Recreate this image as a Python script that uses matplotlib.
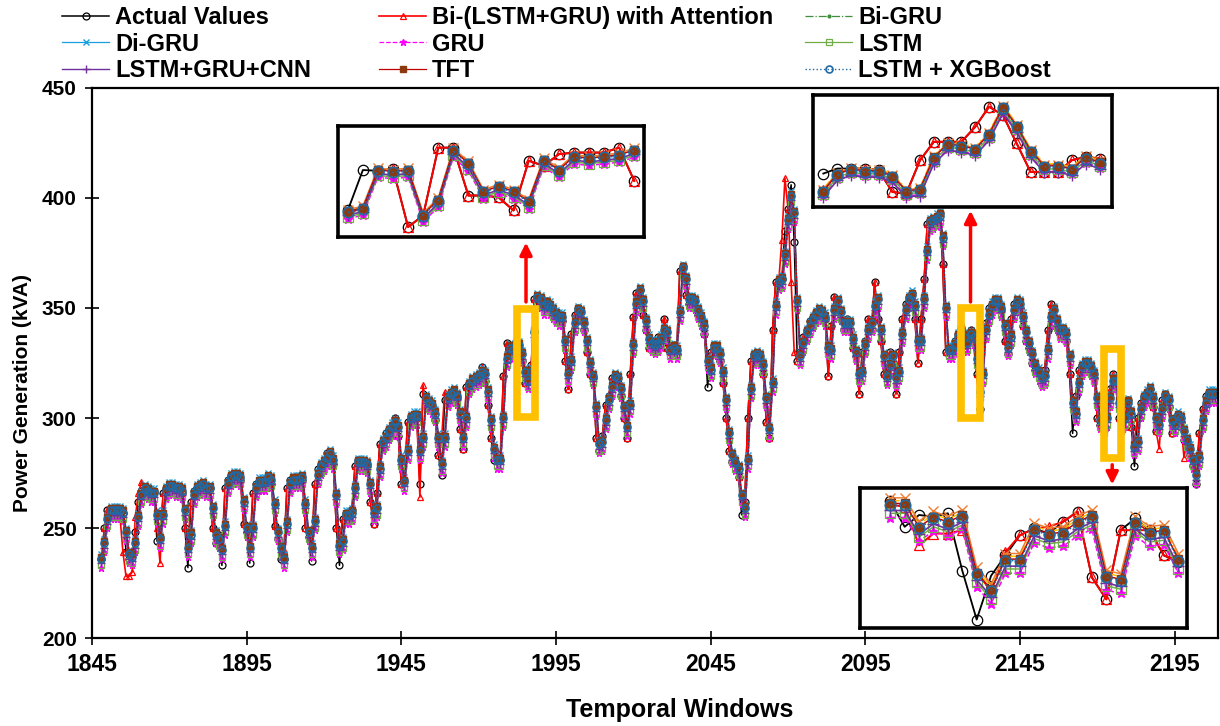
import numpy as np
import matplotlib
matplotlib.use('Agg')
import matplotlib.pyplot as plt
from matplotlib.patches import Rectangle

# temporal windows on the x axis (one reading per window)
windows = np.arange(1848, 2209)

actual = [
    236, 250, 258, 258, 257, 259, 256, 257, 239, 236,
    238, 248, 262, 267, 268, 266, 265, 267, 244, 246,
    266, 268, 269, 268, 268, 267, 266, 250, 232, 262,
    267, 268, 270, 269, 267, 268, 250, 243, 247, 233,
    268, 272, 274, 273, 274, 272, 252, 248, 234, 266,
    270, 271, 270, 272, 273, 270, 251, 245, 236, 236,
    268, 272, 272, 271, 273, 272, 250, 246, 235, 270,
    277, 279, 280, 284, 283, 279, 250, 233, 254, 257,
    255, 258, 278, 281, 279, 280, 278, 262, 252, 266,
    288, 289, 293, 295, 296, 300, 292, 270, 272, 298,
    301, 301, 300, 270, 311, 306, 307, 305, 299, 283,
    274, 308, 310, 312, 311, 309, 295, 286, 314, 316,
    317, 318, 319, 323, 317, 306, 291, 281, 281, 281,
    319, 334, 330, 332, 333, 332, 326, 316, 317, 324,
    354, 355, 352, 350, 353, 348, 349, 345, 347, 344,
    326, 313, 338, 347, 350, 345, 340, 330, 320, 318,
    291, 285, 292, 306, 310, 318, 319, 316, 310, 300,
    291, 320, 346, 357, 358, 347, 340, 332, 335, 330,
    337, 334, 345, 332, 330, 333, 329, 367, 369, 356,
    352, 355, 350, 347, 345, 338, 314, 330, 333, 331,
    326, 316, 300, 285, 280, 280, 273, 256, 262, 300,
    326, 329, 328, 327, 320, 298, 291, 340, 362, 362,
    363, 385, 395, 406, 380, 326, 330, 337, 340, 344,
    346, 348, 349, 347, 345, 319, 342, 355, 350, 345,
    340, 345, 340, 332, 328, 311, 330, 335, 345, 340,
    362, 345, 335, 320, 318, 330, 325, 311, 330, 345,
    352, 355, 357, 345, 325, 345, 363, 388, 390, 390,
    391, 393, 370, 330, 331, 331, 335, 338, 341, 333,
    335, 340, 334, 320, 304, 336, 343, 350, 352, 354,
    351, 349, 335, 329, 345, 352, 353, 350, 342, 335,
    332, 325, 322, 320, 315, 322, 340, 352, 346, 342,
    338, 341, 335, 320, 293, 310, 322, 324, 325, 324,
    322, 318, 300, 297, 295, 305, 313, 320, 314, 300,
    295, 305, 308, 296, 278, 300, 307, 310, 312, 313,
    305, 294, 300, 308, 311, 305, 293, 300, 302, 298,
    290, 289, 283, 278, 270, 293, 304, 310, 312, 310,
    311,
]

bi_att = [
    236, 250, 258, 258, 257, 259, 256, 239, 228, 228,
    230, 255, 266, 271, 268, 266, 265, 267, 250, 234,
    266, 268, 269, 268, 268, 267, 266, 250, 243, 262,
    267, 268, 270, 269, 267, 268, 250, 243, 247, 241,
    268, 272, 274, 273, 274, 272, 252, 248, 242, 266,
    270, 271, 270, 272, 273, 270, 251, 245, 243, 240,
    268, 272, 272, 271, 273, 272, 250, 246, 242, 270,
    277, 279, 280, 284, 283, 279, 250, 243, 254, 257,
    255, 258, 278, 281, 279, 280, 278, 262, 252, 266,
    288, 289, 293, 295, 296, 300, 292, 270, 272, 298,
    301, 301, 300, 264, 315, 306, 307, 305, 299, 283,
    290, 312, 310, 312, 311, 309, 295, 286, 314, 316,
    317, 318, 319, 323, 317, 306, 291, 287, 285, 284,
    319, 334, 330, 332, 333, 332, 326, 316, 317, 324,
    354, 355, 352, 350, 353, 348, 349, 345, 347, 344,
    326, 313, 338, 347, 350, 345, 340, 330, 320, 318,
    291, 290, 292, 306, 310, 318, 319, 316, 310, 300,
    291, 320, 346, 357, 358, 347, 340, 332, 335, 330,
    337, 334, 345, 332, 330, 333, 329, 367, 369, 356,
    352, 355, 350, 347, 345, 338, 325, 330, 333, 331,
    326, 316, 300, 285, 280, 280, 273, 266, 262, 300,
    326, 329, 328, 327, 320, 298, 291, 340, 362, 362,
    381, 409, 395, 362, 330, 326, 330, 337, 340, 344,
    346, 348, 349, 347, 345, 319, 342, 355, 350, 345,
    340, 345, 340, 332, 328, 311, 330, 335, 345, 340,
    362, 345, 335, 320, 318, 330, 325, 311, 330, 345,
    352, 355, 357, 345, 325, 345, 363, 388, 390, 390,
    391, 393, 370, 330, 331, 331, 335, 338, 341, 333,
    335, 340, 334, 320, 304, 336, 343, 350, 352, 354,
    351, 349, 335, 329, 345, 352, 353, 350, 342, 335,
    332, 325, 322, 320, 315, 322, 340, 352, 346, 342,
    338, 341, 335, 320, 305, 310, 322, 324, 325, 324,
    322, 318, 300, 297, 295, 305, 313, 320, 314, 300,
    295, 305, 308, 296, 290, 300, 307, 310, 312, 313,
    305, 294, 286, 308, 311, 305, 293, 300, 302, 298,
    282, 289, 283, 278, 278, 293, 304, 310, 312, 310,
    311,
]

bi_gru = [
    235, 242, 253, 257, 257, 257, 257, 256, 247, 237,
    236, 242, 254, 264, 267, 266, 265, 265, 255, 244,
    255, 266, 268, 268, 267, 267, 266, 257, 240, 246,
    264, 267, 268, 269, 267, 267, 258, 246, 244, 239,
    250, 269, 272, 273, 273, 272, 261, 249, 240, 249,
    267, 270, 270, 270, 272, 271, 260, 247, 240, 235,
    251, 269, 271, 271, 271, 272, 260, 247, 240, 252,
    273, 277, 279, 281, 283, 280, 264, 241, 243, 255,
    255, 256, 267, 279, 279, 279, 278, 269, 256, 258,
    276, 288, 290, 293, 295, 297, 295, 280, 270, 284,
    299, 300, 300, 284, 290, 308, 306, 305, 301, 290,
    278, 290, 308, 310, 311, 309, 301, 290, 299, 314,
    316, 317, 318, 320, 319, 311, 298, 285, 280, 280,
    299, 326, 331, 330, 332, 332, 328, 320, 316, 320,
    338, 354, 353, 350, 351, 350, 348, 346, 345, 345,
    334, 319, 325, 342, 348, 347, 342, 334, 324, 318,
    304, 287, 288, 298, 307, 313, 318, 317, 312, 304,
    295, 305, 332, 351, 357, 352, 343, 335, 333, 332,
    333, 335, 339, 338, 330, 331, 330, 347, 367, 362,
    353, 353, 352, 348, 345, 341, 325, 321, 331, 331,
    328, 320, 307, 292, 282, 279, 276, 264, 258, 280,
    312, 327, 328, 327, 323, 308, 294, 315, 350, 361,
    362, 373, 389, 400, 392, 352, 327, 333, 338, 341,
    344, 346, 348, 347, 345, 331, 330, 348, 352, 347,
    342, 342, 342, 335, 329, 319, 320, 332, 339, 342,
    350, 353, 339, 327, 318, 323, 327, 317, 320, 337,
    348, 353, 355, 350, 334, 334, 353, 375, 388, 389,
    390, 391, 381, 349, 330, 330, 332, 336, 339, 336,
    333, 337, 336, 326, 311, 319, 339, 346, 350, 352,
    352, 349, 341, 331, 336, 348, 352, 351, 345, 338,
    333, 328, 323, 320, 317, 318, 330, 345, 348, 343,
    339, 339, 337, 327, 306, 301, 315, 322, 324, 324,
    322, 319, 308, 298, 295, 299, 308, 316, 316, 306,
    297, 299, 306, 301, 286, 288, 303, 308, 310, 312,
    308, 299, 296, 303, 309, 307, 298, 296, 300, 299,
    293, 289, 285, 280, 273, 281, 298, 306, 310, 310,
    310,
]

di_gru = [
    238, 245, 256, 260, 260, 260, 260, 259, 250, 240,
    239, 245, 257, 267, 270, 269, 268, 268, 258, 247,
    258, 269, 271, 271, 270, 270, 269, 260, 243, 249,
    267, 270, 271, 272, 270, 270, 261, 249, 247, 242,
    253, 272, 275, 276, 276, 275, 264, 252, 243, 252,
    270, 273, 273, 273, 275, 274, 263, 250, 243, 238,
    254, 272, 274, 274, 274, 275, 263, 250, 243, 255,
    276, 280, 282, 284, 286, 283, 267, 244, 246, 258,
    258, 259, 270, 282, 282, 282, 281, 272, 259, 261,
    279, 291, 293, 296, 298, 300, 298, 283, 273, 287,
    302, 303, 303, 287, 293, 311, 309, 308, 304, 293,
    281, 293, 311, 313, 314, 312, 304, 293, 302, 317,
    319, 320, 321, 323, 322, 314, 301, 288, 283, 283,
    302, 329, 334, 333, 335, 335, 331, 323, 319, 323,
    341, 357, 356, 353, 354, 353, 351, 349, 348, 348,
    337, 322, 328, 345, 351, 350, 345, 337, 327, 321,
    307, 290, 291, 301, 310, 316, 321, 320, 315, 307,
    298, 308, 335, 354, 360, 355, 346, 338, 336, 335,
    336, 338, 342, 341, 333, 334, 333, 350, 370, 365,
    356, 356, 355, 351, 348, 344, 328, 324, 334, 334,
    331, 323, 310, 295, 285, 282, 279, 267, 261, 283,
    315, 330, 331, 330, 326, 311, 297, 318, 353, 364,
    365, 376, 392, 403, 395, 355, 330, 336, 341, 344,
    347, 349, 351, 350, 348, 334, 333, 351, 355, 350,
    345, 345, 345, 338, 332, 322, 323, 335, 342, 345,
    353, 356, 342, 330, 321, 326, 330, 320, 323, 340,
    351, 356, 358, 353, 337, 337, 356, 378, 391, 392,
    393, 394, 384, 352, 333, 333, 335, 339, 342, 339,
    336, 340, 339, 329, 314, 322, 342, 349, 353, 355,
    355, 352, 344, 334, 339, 351, 355, 354, 348, 341,
    336, 331, 326, 323, 320, 321, 333, 348, 351, 346,
    342, 342, 340, 330, 309, 304, 318, 325, 327, 327,
    325, 322, 311, 301, 298, 302, 311, 319, 319, 309,
    300, 302, 309, 304, 289, 291, 306, 311, 313, 315,
    311, 302, 299, 306, 312, 310, 301, 299, 303, 302,
    296, 292, 288, 283, 276, 284, 301, 309, 313, 313,
    313,
]

gru = [
    232, 239, 250, 254, 254, 254, 254, 253, 244, 234,
    233, 239, 251, 261, 264, 263, 262, 262, 252, 241,
    252, 263, 265, 265, 264, 264, 263, 254, 237, 243,
    261, 264, 265, 266, 264, 264, 255, 243, 241, 236,
    247, 266, 269, 270, 270, 269, 258, 246, 237, 246,
    264, 267, 267, 267, 269, 268, 257, 244, 237, 232,
    248, 266, 268, 268, 268, 269, 257, 244, 237, 249,
    270, 274, 276, 278, 280, 277, 261, 238, 240, 252,
    252, 253, 264, 276, 276, 276, 275, 266, 253, 255,
    273, 285, 287, 290, 292, 294, 292, 277, 267, 281,
    296, 297, 297, 281, 287, 305, 303, 302, 298, 287,
    275, 287, 305, 307, 308, 306, 298, 287, 296, 311,
    313, 314, 315, 317, 316, 308, 295, 282, 277, 277,
    296, 323, 328, 327, 329, 329, 325, 317, 313, 317,
    335, 351, 350, 347, 348, 347, 345, 343, 342, 342,
    331, 316, 322, 339, 345, 344, 339, 331, 321, 315,
    301, 284, 285, 295, 304, 310, 315, 314, 309, 301,
    292, 302, 329, 348, 354, 349, 340, 332, 330, 329,
    330, 332, 336, 335, 327, 328, 327, 344, 364, 359,
    350, 350, 349, 345, 342, 338, 322, 318, 328, 328,
    325, 317, 304, 289, 279, 276, 273, 261, 255, 277,
    309, 324, 325, 324, 320, 305, 291, 312, 347, 358,
    359, 370, 386, 397, 389, 349, 324, 330, 335, 338,
    341, 343, 345, 344, 342, 328, 327, 345, 349, 344,
    339, 339, 339, 332, 326, 316, 317, 329, 336, 339,
    347, 350, 336, 324, 315, 320, 324, 314, 317, 334,
    345, 350, 352, 347, 331, 331, 350, 372, 385, 386,
    387, 388, 378, 346, 327, 327, 329, 333, 336, 333,
    330, 334, 333, 323, 308, 316, 336, 343, 347, 349,
    349, 346, 338, 328, 333, 345, 349, 348, 342, 335,
    330, 325, 320, 317, 314, 315, 327, 342, 345, 340,
    336, 336, 334, 324, 303, 298, 312, 319, 321, 321,
    319, 316, 305, 295, 292, 296, 305, 313, 313, 303,
    294, 296, 303, 298, 283, 285, 300, 305, 307, 309,
    305, 296, 293, 300, 306, 304, 295, 293, 297, 296,
    290, 286, 282, 277, 270, 278, 295, 303, 307, 307,
    307,
]

lstm = [
    233, 240, 251, 255, 255, 255, 255, 254, 245, 235,
    234, 240, 252, 262, 265, 264, 263, 263, 253, 242,
    253, 264, 266, 266, 265, 265, 264, 255, 238, 244,
    262, 265, 266, 267, 265, 265, 256, 244, 242, 237,
    248, 267, 270, 271, 271, 270, 259, 247, 238, 247,
    265, 268, 268, 268, 270, 269, 258, 245, 238, 233,
    249, 267, 269, 269, 269, 270, 258, 245, 238, 250,
    271, 275, 277, 279, 281, 278, 262, 239, 241, 253,
    253, 254, 265, 277, 277, 277, 276, 267, 254, 256,
    274, 286, 288, 291, 293, 295, 293, 278, 268, 282,
    297, 298, 298, 282, 288, 306, 304, 303, 299, 288,
    276, 288, 306, 308, 309, 307, 299, 288, 297, 312,
    314, 315, 316, 318, 317, 309, 296, 283, 278, 278,
    297, 324, 329, 328, 330, 330, 326, 318, 314, 318,
    336, 352, 351, 348, 349, 348, 346, 344, 343, 343,
    332, 317, 323, 340, 346, 345, 340, 332, 322, 316,
    302, 285, 286, 296, 305, 311, 316, 315, 310, 302,
    293, 303, 330, 349, 355, 350, 341, 333, 331, 330,
    331, 333, 337, 336, 328, 329, 328, 345, 365, 360,
    351, 351, 350, 346, 343, 339, 323, 319, 329, 329,
    326, 318, 305, 290, 280, 277, 274, 262, 256, 278,
    310, 325, 326, 325, 321, 306, 292, 313, 348, 359,
    360, 371, 387, 398, 390, 350, 325, 331, 336, 339,
    342, 344, 346, 345, 343, 329, 328, 346, 350, 345,
    340, 340, 340, 333, 327, 317, 318, 330, 337, 340,
    348, 351, 337, 325, 316, 321, 325, 315, 318, 335,
    346, 351, 353, 348, 332, 332, 351, 373, 386, 387,
    388, 389, 379, 347, 328, 328, 330, 334, 337, 334,
    331, 335, 334, 324, 309, 317, 337, 344, 348, 350,
    350, 347, 339, 329, 334, 346, 350, 349, 343, 336,
    331, 326, 321, 318, 315, 316, 328, 343, 346, 341,
    337, 337, 335, 325, 304, 299, 313, 320, 322, 322,
    320, 317, 306, 296, 293, 297, 306, 314, 314, 304,
    295, 297, 304, 299, 284, 286, 301, 306, 308, 310,
    306, 297, 294, 301, 307, 305, 296, 294, 298, 297,
    291, 287, 283, 278, 271, 279, 296, 304, 308, 308,
    308,
]

lstm_gru_cnn = [
    234, 241, 252, 256, 256, 256, 256, 255, 246, 236,
    235, 241, 253, 263, 266, 265, 264, 264, 254, 243,
    254, 265, 267, 267, 266, 266, 265, 256, 239, 245,
    263, 266, 267, 268, 266, 266, 257, 245, 243, 238,
    249, 268, 271, 272, 272, 271, 260, 248, 239, 248,
    266, 269, 269, 269, 271, 270, 259, 246, 239, 234,
    250, 268, 270, 270, 270, 271, 259, 246, 239, 251,
    272, 276, 278, 280, 282, 279, 263, 240, 242, 254,
    254, 255, 266, 278, 278, 278, 277, 268, 255, 257,
    275, 287, 289, 292, 294, 296, 294, 279, 269, 283,
    298, 299, 299, 283, 289, 307, 305, 304, 300, 289,
    277, 289, 307, 309, 310, 308, 300, 289, 298, 313,
    315, 316, 317, 319, 318, 310, 297, 284, 279, 279,
    298, 325, 330, 329, 331, 331, 327, 319, 315, 319,
    337, 353, 352, 349, 350, 349, 347, 345, 344, 344,
    333, 318, 324, 341, 347, 346, 341, 333, 323, 317,
    303, 286, 287, 297, 306, 312, 317, 316, 311, 303,
    294, 304, 331, 350, 356, 351, 342, 334, 332, 331,
    332, 334, 338, 337, 329, 330, 329, 346, 366, 361,
    352, 352, 351, 347, 344, 340, 324, 320, 330, 330,
    327, 319, 306, 291, 281, 278, 275, 263, 257, 279,
    311, 326, 327, 326, 322, 307, 293, 314, 349, 360,
    361, 372, 388, 399, 391, 351, 326, 332, 337, 340,
    343, 345, 347, 346, 344, 330, 329, 347, 351, 346,
    341, 341, 341, 334, 328, 318, 319, 331, 338, 341,
    349, 352, 338, 326, 317, 322, 326, 316, 319, 336,
    347, 352, 354, 349, 333, 333, 352, 374, 387, 388,
    389, 390, 380, 348, 329, 329, 331, 335, 338, 335,
    332, 336, 335, 325, 310, 318, 338, 345, 349, 351,
    351, 348, 340, 330, 335, 347, 351, 350, 344, 337,
    332, 327, 322, 319, 316, 317, 329, 344, 347, 342,
    338, 338, 336, 326, 305, 300, 314, 321, 323, 323,
    321, 318, 307, 297, 294, 298, 307, 315, 315, 305,
    296, 298, 305, 300, 285, 287, 302, 307, 309, 311,
    307, 298, 295, 302, 308, 306, 297, 295, 299, 298,
    292, 288, 284, 279, 272, 280, 297, 305, 309, 309,
    309,
]

tft = [
    237, 244, 255, 259, 259, 259, 259, 258, 249, 239,
    238, 244, 256, 266, 269, 268, 267, 267, 257, 246,
    257, 268, 270, 270, 269, 269, 268, 259, 242, 248,
    266, 269, 270, 271, 269, 269, 260, 248, 246, 241,
    252, 271, 274, 275, 275, 274, 263, 251, 242, 251,
    269, 272, 272, 272, 274, 273, 262, 249, 242, 237,
    253, 271, 273, 273, 273, 274, 262, 249, 242, 254,
    275, 279, 281, 283, 285, 282, 266, 243, 245, 257,
    257, 258, 269, 281, 281, 281, 280, 271, 258, 260,
    278, 290, 292, 295, 297, 299, 297, 282, 272, 286,
    301, 302, 302, 286, 292, 310, 308, 307, 303, 292,
    280, 292, 310, 312, 313, 311, 303, 292, 301, 316,
    318, 319, 320, 322, 321, 313, 300, 287, 282, 282,
    301, 328, 333, 332, 334, 334, 330, 322, 318, 322,
    340, 356, 355, 352, 353, 352, 350, 348, 347, 347,
    336, 321, 327, 344, 350, 349, 344, 336, 326, 320,
    306, 289, 290, 300, 309, 315, 320, 319, 314, 306,
    297, 307, 334, 353, 359, 354, 345, 337, 335, 334,
    335, 337, 341, 340, 332, 333, 332, 349, 369, 364,
    355, 355, 354, 350, 347, 343, 327, 323, 333, 333,
    330, 322, 309, 294, 284, 281, 278, 266, 260, 282,
    314, 329, 330, 329, 325, 310, 296, 317, 352, 363,
    364, 375, 391, 402, 394, 354, 329, 335, 340, 343,
    346, 348, 350, 349, 347, 333, 332, 350, 354, 349,
    344, 344, 344, 337, 331, 321, 322, 334, 341, 344,
    352, 355, 341, 329, 320, 325, 329, 319, 322, 339,
    350, 355, 357, 352, 336, 336, 355, 377, 390, 391,
    392, 393, 383, 351, 332, 332, 334, 338, 341, 338,
    335, 339, 338, 328, 313, 321, 341, 348, 352, 354,
    354, 351, 343, 333, 338, 350, 354, 353, 347, 340,
    335, 330, 325, 322, 319, 320, 332, 347, 350, 345,
    341, 341, 339, 329, 308, 303, 317, 324, 326, 326,
    324, 321, 310, 300, 297, 301, 310, 318, 318, 308,
    299, 301, 308, 303, 288, 290, 305, 310, 312, 314,
    310, 301, 298, 305, 311, 309, 300, 298, 302, 301,
    295, 291, 287, 282, 275, 283, 300, 308, 312, 312,
    312,
]

lstm_xgb = [
    236, 243, 254, 258, 258, 258, 258, 257, 248, 238,
    237, 243, 255, 265, 268, 267, 266, 266, 256, 245,
    256, 267, 269, 269, 268, 268, 267, 258, 241, 247,
    265, 268, 269, 270, 268, 268, 259, 247, 245, 240,
    251, 270, 273, 274, 274, 273, 262, 250, 241, 250,
    268, 271, 271, 271, 273, 272, 261, 248, 241, 236,
    252, 270, 272, 272, 272, 273, 261, 248, 241, 253,
    274, 278, 280, 282, 284, 281, 265, 242, 244, 256,
    256, 257, 268, 280, 280, 280, 279, 270, 257, 259,
    277, 289, 291, 294, 296, 298, 296, 281, 271, 285,
    300, 301, 301, 285, 291, 309, 307, 306, 302, 291,
    279, 291, 309, 311, 312, 310, 302, 291, 300, 315,
    317, 318, 319, 321, 320, 312, 299, 286, 281, 281,
    300, 327, 332, 331, 333, 333, 329, 321, 317, 321,
    339, 355, 354, 351, 352, 351, 349, 347, 346, 346,
    335, 320, 326, 343, 349, 348, 343, 335, 325, 319,
    305, 288, 289, 299, 308, 314, 319, 318, 313, 305,
    296, 306, 333, 352, 358, 353, 344, 336, 334, 333,
    334, 336, 340, 339, 331, 332, 331, 348, 368, 363,
    354, 354, 353, 349, 346, 342, 326, 322, 332, 332,
    329, 321, 308, 293, 283, 280, 277, 265, 259, 281,
    313, 328, 329, 328, 324, 309, 295, 316, 351, 362,
    363, 374, 390, 401, 393, 353, 328, 334, 339, 342,
    345, 347, 349, 348, 346, 332, 331, 349, 353, 348,
    343, 343, 343, 336, 330, 320, 321, 333, 340, 343,
    351, 354, 340, 328, 319, 324, 328, 318, 321, 338,
    349, 354, 356, 351, 335, 335, 354, 376, 389, 390,
    391, 392, 382, 350, 331, 331, 333, 337, 340, 337,
    334, 338, 337, 327, 312, 320, 340, 347, 351, 353,
    353, 350, 342, 332, 337, 349, 353, 352, 346, 339,
    334, 329, 324, 321, 318, 319, 331, 346, 349, 344,
    340, 340, 338, 328, 307, 302, 316, 323, 325, 325,
    323, 320, 309, 299, 296, 300, 309, 317, 317, 307,
    298, 300, 307, 302, 287, 289, 304, 309, 311, 313,
    309, 300, 297, 304, 310, 308, 299, 297, 301, 300,
    294, 290, 286, 281, 274, 282, 299, 307, 311, 311,
    311,
]

# zoomed-in views (inset panels)
ins1_actual = [314.6, 336.8, 336.4, 337.3, 305.5, 311.8, 349.1, 349.1, 322.8, 322.8,
               321.8, 314.6, 341.9, 339.1, 345.5, 346.4, 346.4, 346.4, 349.1, 330.9]
ins1_bi_att = [313.0, 316.0, 336.4, 337.3, 305.5, 311.8, 349.1, 349.1, 322.8, 322.8,
               321.8, 314.6, 341.9, 339.1, 345.5, 346.4, 346.4, 346.4, 349.1, 330.9]
ins1_bi_gru = [314.3, 316.3, 337.2, 336.3, 337.2, 312.6, 320.8, 348.1, 340.8, 325.4,
               328.1, 325.4, 319.9, 342.7, 337.2, 344.5, 343.6, 344.5, 345.4, 348.1]
ins1_di_gru = [315.0, 317.0, 337.9, 337.0, 337.9, 313.3, 321.5, 348.8, 341.5, 326.1,
               328.8, 326.1, 320.6, 343.4, 337.9, 345.2, 344.3, 345.2, 346.1, 348.8]
ins1_gru = [310.0, 312.0, 332.9, 332.0, 332.9, 308.3, 316.5, 343.8, 336.5, 321.1,
            323.8, 321.1, 315.6, 338.4, 332.9, 340.2, 339.3, 340.2, 341.1, 343.8]
ins1_lstm = [311.0, 313.0, 333.9, 333.0, 333.9, 309.3, 317.5, 344.8, 337.5, 322.1,
             324.8, 322.1, 316.6, 339.4, 333.9, 341.2, 340.3, 341.2, 342.1, 344.8]
ins1_cnn = [312.0, 314.0, 334.9, 334.0, 334.9, 310.3, 318.5, 345.8, 338.5, 323.1,
            325.8, 323.1, 317.6, 340.4, 334.9, 342.2, 341.3, 342.2, 343.1, 345.8]
ins1_tft = [314.0, 316.0, 336.9, 336.0, 336.9, 312.3, 320.5, 347.8, 340.5, 325.1,
            327.8, 325.1, 319.6, 342.4, 336.9, 344.2, 343.3, 344.2, 345.1, 347.8]
ins1_xgb = [313.5, 315.5, 336.4, 335.5, 336.4, 311.8, 320.0, 347.3, 340.0, 324.6,
            327.3, 324.6, 319.1, 341.9, 336.4, 343.7, 342.8, 343.7, 344.6, 347.3]

ins2_actual = [316.0, 318.4, 318.4, 318.4, 317.6, 307.2, 306.4, 322.4, 331.2, 331.2, 331.2,
               338.4, 348.0, 344.0, 330.4, 316.8, 316.8, 316.8, 322.4, 324.0, 323.2]
ins2_bi_att = [308.0, 316.0, 318.4, 318.4, 317.6, 307.2, 306.4, 322.4, 331.2, 331.2, 331.2,
               338.4, 348.0, 344.0, 330.4, 316.8, 316.8, 316.8, 322.4, 324.0, 323.2]
ins2_bi_gru = [308.7, 316.7, 319.1, 318.3, 318.3, 315.9, 308.7, 309.5, 324.7, 331.1, 330.3,
               328.7, 335.9, 348.7, 339.9, 327.9, 320.7, 320.7, 319.1, 324.7, 322.3]
ins2_di_gru = [308.2, 316.2, 318.6, 317.8, 317.8, 315.4, 308.2, 309.0, 324.2, 330.6, 329.8,
               328.2, 335.4, 348.2, 339.4, 327.4, 320.2, 320.2, 318.6, 324.2, 321.8]
ins2_gru = [305.2, 313.2, 315.6, 314.8, 314.8, 312.4, 305.2, 306.0, 321.2, 327.6, 326.8,
            325.2, 332.4, 345.2, 336.4, 324.4, 317.2, 317.2, 315.6, 321.2, 318.8]
ins2_lstm = [306.2, 314.2, 316.6, 315.8, 315.8, 313.4, 306.2, 307.0, 322.2, 328.6, 327.8,
             326.2, 333.4, 346.2, 337.4, 325.4, 318.2, 318.2, 316.6, 322.2, 319.8]
ins2_cnn = [304.7, 312.7, 315.1, 314.3, 314.3, 311.9, 304.7, 305.5, 320.7, 327.1, 326.3,
            324.7, 331.9, 344.7, 335.9, 323.9, 316.7, 316.7, 315.1, 320.7, 318.3]
ins2_tft = [307.7, 315.7, 318.1, 317.3, 317.3, 314.9, 307.7, 308.5, 323.7, 330.1, 329.3,
            327.7, 334.9, 347.7, 338.9, 326.9, 319.7, 319.7, 318.1, 323.7, 321.3]
ins2_xgb = [307.2, 315.2, 317.6, 316.8, 316.8, 314.4, 307.2, 308.0, 323.2, 329.6, 328.8,
            327.2, 334.4, 347.2, 338.4, 326.4, 319.2, 319.2, 317.6, 323.2, 320.8]

ins3_actual = [325.0, 316.0, 320.2, 319.6, 320.8, 300.4, 283.0, 298.6, 305.8, 313.0, 315.4,
               313.6, 317.8, 321.4, 298.0, 290.2, 314.8, 319.0, 314.8, 305.8, 303.4]
ins3_bi_att = [323.8, 323.2, 309.4, 313.6, 313.6, 314.8, 299.8, 293.2, 307.0, 313.0, 315.4,
               316.0, 317.8, 321.4, 298.0, 290.2, 314.8, 314.8, 314.8, 305.8, 304.0]
ins3_bi_gru = [325.3, 325.3, 316.9, 320.5, 318.7, 321.1, 300.7, 294.7, 305.5, 305.5, 316.3,
               314.5, 315.1, 318.7, 321.1, 299.5, 298.3, 318.7, 315.1, 315.7, 305.5]
ins3_di_gru = [326.3, 326.3, 317.9, 321.5, 319.7, 322.1, 301.7, 295.7, 306.5, 306.5, 317.3,
               315.5, 316.1, 319.7, 322.1, 300.5, 299.3, 319.7, 316.1, 316.7, 306.5]
ins3_gru = [319.3, 319.3, 310.9, 314.5, 312.7, 315.1, 294.7, 288.7, 299.5, 299.5, 310.3,
            308.5, 309.1, 312.7, 315.1, 293.5, 292.3, 312.7, 309.1, 309.7, 299.5]
ins3_lstm = [320.8, 320.8, 312.4, 316.0, 314.2, 316.6, 296.2, 290.2, 301.0, 301.0, 311.8,
             310.0, 310.6, 314.2, 316.6, 295.0, 293.8, 314.2, 310.6, 311.2, 301.0]
ins3_cnn = [321.8, 321.8, 313.4, 317.0, 315.2, 317.6, 297.2, 291.2, 302.0, 302.0, 312.8,
            311.0, 311.6, 315.2, 317.6, 296.0, 294.8, 315.2, 311.6, 312.2, 302.0]
ins3_tft = [324.3, 324.3, 315.9, 319.5, 317.7, 320.1, 299.7, 293.7, 304.5, 304.5, 315.3,
            313.5, 314.1, 317.7, 320.1, 298.5, 297.3, 317.7, 314.1, 314.7, 304.5]
ins3_xgb = [323.8, 323.8, 315.4, 319.0, 317.2, 319.6, 299.2, 293.2, 304.0, 304.0, 314.8,
            313.0, 313.6, 317.2, 319.6, 298.0, 296.8, 317.2, 313.6, 314.2, 304.0]

names = ['Actual Values', 'Bi-(LSTM+GRU) with Attention', 'Bi-GRU', 'Di-GRU', 'GRU',
         'LSTM', 'LSTM+GRU+CNN', 'TFT', 'LSTM + XGBoost']
styles = [
    dict(color='black', lw=1.1, marker='o', ms=5, mfc='none', mew=0.9),
    dict(color='#ff0000', lw=1.2, marker='^', ms=4.5, mfc='none', mew=0.9),
    dict(color='#3f8f3f', lw=0.9, ls='-.', marker='.', ms=4),
    dict(color='#1a9fe0', lw=0.9, marker='x', ms=4.5, mew=1.0),
    dict(color='#ff00ff', lw=0.9, ls='--', marker='*', ms=4.5),
    dict(color='#70ad47', lw=0.9, marker='s', ms=5, mfc='none', mew=0.9),
    dict(color='#7030a0', lw=1.0, marker='+', ms=5.5, mew=1.0),
    dict(color='#c00000', lw=0.9, marker='s', ms=3.8, mfc='#8b3a0f', mec='#8b3a0f'),
    dict(color='#1f6aa5', lw=1.0, ls=':', marker='o', ms=5, mfc='none', mew=1.2),
]
main_data = [actual, bi_att, bi_gru, di_gru, gru, lstm, lstm_gru_cnn, tft, lstm_xgb]

bold = dict(family=['Liberation Sans', 'DejaVu Sans'], weight='bold')

fig = plt.figure(figsize=(12.2, 7.26), dpi=100)
ax = fig.add_axes([92 / 1220, 1 - 638 / 726, 1126 / 1220, 550 / 726])

handles = []
for vals, st in zip(main_data, styles):
    ln, = ax.plot(windows, vals, **st)
    handles.append(ln)

ax.set_xlim(1845, 2209)
ax.set_ylim(200, 450)
ax.set_xticks(np.arange(1845, 2200, 50))
ax.set_yticks(np.arange(200, 451, 50))
ax.tick_params(direction='inout', length=10, width=1.2, pad=6)
for lab in ax.get_xticklabels():
    lab.set(fontsize=16.5, **bold)
for lab in ax.get_yticklabels():
    lab.set(fontsize=15, **bold)
for sp in ax.spines.values():
    sp.set_linewidth(1.6)

ax.set_xlabel('Temporal Windows', fontsize=18, **bold)
ax.xaxis.set_label_coords(0.522, -0.11)
ax.set_ylabel('Power Generation (kVA)', fontsize=15, **bold)
ax.yaxis.set_label_coords(-0.053, 0.445)

# highlighted regions and pointers to the zoomed panels
for x0, x1, y0, y1 in [(1982.4, 1988.2, 300.3, 349.6),
                       (2125.9, 2132.0, 300.2, 349.9),
                       (2172.1, 2177.6, 281.7, 331.5)]:
    ax.add_patch(Rectangle((x0, y0), x1 - x0, y1 - y0, fill=False,
                           edgecolor='#ffc000', lw=5.5, zorder=20))
arrow = dict(arrowstyle='-|>', color='#ff0000', lw=2.5, mutation_scale=18)
ax.annotate('', xy=(1985.3, 381), xytext=(1985.3, 351.5), arrowprops=arrow, zorder=21)
ax.annotate('', xy=(2129.0, 395.5), xytext=(2129.0, 351.5), arrowprops=arrow, zorder=21)
ax.annotate('', xy=(2174.8, 268.5), xytext=(2174.8, 280), arrowprops=arrow, zorder=21)

# inset panels
insets = [
    ([338, 126, 306, 111], (-0.65, 19.65), (300, 361),
     [ins1_actual, ins1_bi_att, ins1_bi_gru, ins1_di_gru, ins1_gru, ins1_lstm, ins1_cnn, ins1_tft, ins1_xgb]),
    ([813, 95, 299, 112], (-0.75, 20.9), (300, 353.6),
     [ins2_actual, ins2_bi_att, ins2_bi_gru, ins2_di_gru, ins2_gru, ins2_lstm, ins2_cnn, ins2_tft, ins2_xgb]),
    ([860, 488, 327, 140], (-2.1, 20.6), (280, 329.8),
     [ins3_actual, ins3_bi_att, ins3_bi_gru, ins3_di_gru, ins3_gru, ins3_lstm, ins3_cnn, ins3_tft, ins3_xgb]),
]
inset_colors = {2: '#ffc000', 3: '#ed7d31'}
for (px, py, pw, ph), xl, yl, series in insets:
    iax = fig.add_axes([px / 1220, 1 - (py + ph) / 726, pw / 1220, ph / 726])
    iax.set_facecolor('white')
    for k, (vals, st) in enumerate(zip(series, styles)):
        st2 = dict(st)
        st2['ms'] = st['ms'] * 1.5
        st2['lw'] = st['lw'] * 1.2
        if k in inset_colors:
            st2['color'] = inset_colors[k]
        iax.plot(np.arange(len(vals)), vals, **st2)
    iax.set_xlim(*xl)
    iax.set_ylim(*yl)
    iax.set_xticks([])
    iax.set_yticks([])
    for sp in iax.spines.values():
        sp.set_linewidth(2.6)
        sp.set_color('black')

# legend laid out as three columns across the top
for left, idx in [(62, [0, 3, 6]), (379, [1, 4, 7]), (805, [2, 5, 8])]:
    fig.legend([handles[i] for i in idx], [names[i] for i in idx],
               loc='upper left', bbox_to_anchor=(left / 1220, 1 - 6 / 726),
               frameon=False, borderpad=0, borderaxespad=0,
               handlelength=2.0, handletextpad=0.25, labelspacing=0.15,
               prop=dict(size=17, **bold))

fig.savefig('out.png', dpi=100)
